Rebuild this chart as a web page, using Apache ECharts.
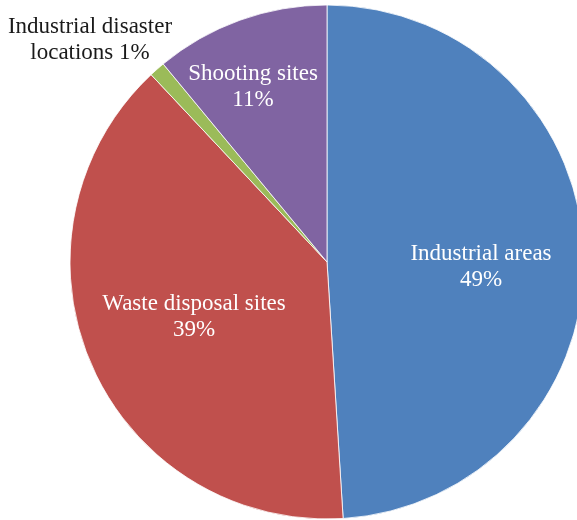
<!DOCTYPE html>
<html>
<head>
<meta charset="utf-8">
<script src="https://cdn.jsdelivr.net/npm/echarts@6/dist/echarts.min.js"></script>
<style>
  html, body { margin: 0; padding: 0; background: #fff; }
  #chart { width: 577px; height: 520px; }
</style>
</head>
<body>
<div id="chart"></div>
<script>
// Site categories, clockwise from 12 o'clock
const categories = ['Industrial areas', 'Waste disposal sites', 'Industrial disaster\nlocations', 'Shooting sites'];
const shares = [49, 39, 1, 11];
const sliceColors = ['#4F81BD', '#C0504D', '#9BBB59', '#8064A2'];
const labelColors = ['#ffffff', '#ffffff', '#1a1a1a', '#ffffff'];
// label anchor points (centre of each text block)
const labelAnchors = [[481, 267], [194, 317], [90, 40], [253, 87]];

const chart = echarts.init(document.getElementById('chart'), null, { renderer: 'canvas' });

chart.setOption({
  animation: false,
  backgroundColor: '#ffffff',
  series: [{
    type: 'pie',
    center: [327, 262],
    radius: [0, 257],
    startAngle: 90,
    clockwise: true,
    avoidLabelOverlap: false,
    itemStyle: { borderColor: '#ffffff', borderWidth: 0.8 },
    label: {
      show: true,
      position: 'inside',
      fontFamily: 'Liberation Serif',
      fontSize: 23,
      lineHeight: 26,
      align: 'center',
      formatter: p => p.name + (p.dataIndex === 2 ? ' ' : '\n') + p.value + '%'
    },
    labelLine: { show: false },
    labelLayout: function (params) {
      const a = labelAnchors[params.dataIndex];
      return { x: a[0], y: a[1], align: 'center', verticalAlign: 'middle' };
    },
    data: categories.map((name, i) => ({
      name: name,
      value: shares[i],
      itemStyle: { color: sliceColors[i] },
      label: { color: labelColors[i] }
    }))
  }]
});
</script>
</body>
</html>
